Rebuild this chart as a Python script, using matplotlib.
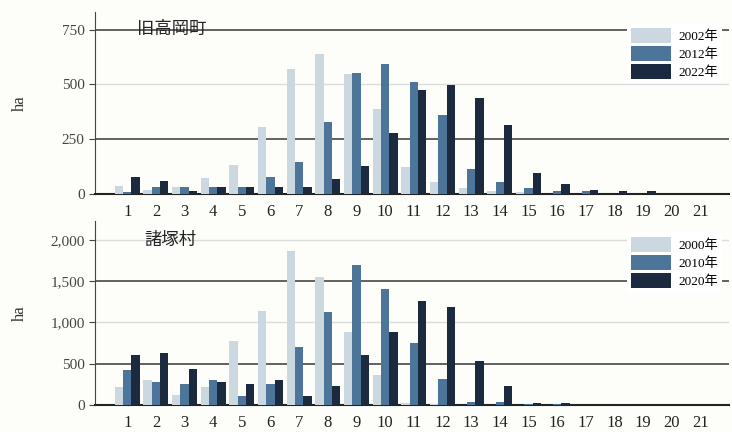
import matplotlib
matplotlib.use("Agg")
import matplotlib.pyplot as plt
import numpy as np
from matplotlib.ticker import FuncFormatter

categories = [str(i) for i in range(1, 22)]

top_title = "旧高岡町"
top_labels = ["2002年", "2012年", "2022年"]
top_a = [35, 20, 30, 73, 133, 307, 570, 641, 547, 386, 121, 53, 26, 15, 10, 0, 0, 0, 0, 0, 0]
top_b = [10, 30, 30, 30, 30, 76, 145, 327, 551, 594, 512, 359, 114, 53, 27, 15, 15, 0, 0, 0, 0]
top_c = [76, 58, 15, 30, 30, 30, 30, 70, 126, 279, 473, 497, 439, 315, 95, 45, 20, 15, 15, 2, 0]
top_ticks = [0, 250, 500, 750]

bot_title = "諸塚村"
bot_labels = ["2000年", "2010年", "2020年"]
bot_a = [224, 305, 120, 224, 772, 1138, 1862, 1557, 886, 358, 30, 10, 0, 0, 0, 0, 0, 0, 0, 0, 0]
bot_b = [419, 276, 256, 297, 110, 252, 700, 1122, 1700, 1406, 752, 309, 40, 40, 10, 15, 5, 5, 5, 5, 5]
bot_c = [610, 630, 435, 280, 256, 300, 114, 228, 600, 886, 1260, 1187, 532, 228, 30, 30, 5, 10, 5, 5, 5]
bot_ticks = [0, 500, 1000, 1500, 2000]

colors = ["#cbd8e0", "#4c7599", "#1b2a3f"]
serif = ["Liberation Serif", "Noto Sans CJK JP"]
cjk = ["Noto Sans CJK JP", "DejaVu Sans"]
bg = "#fdfdf9"

fig = plt.figure(figsize=(7.32, 4.32), dpi=100, facecolor=bg)
ax1 = fig.add_axes([0.130, 0.551, 0.866, 0.421])
ax2 = fig.add_axes([0.130, 0.0625, 0.866, 0.426])

def draw(ax, title, labels, series, ticks, ymax, title_xy):
    ax.set_facecolor(bg)
    x = np.arange(len(categories))
    w = 0.29
    for i, (vals, lab, col) in enumerate(zip(series, labels, colors)):
        ax.bar(x + (i - 1) * w, vals, width=w, color=col, label=lab, zorder=3)
    for j, t in enumerate(ticks):
        if j == 0:
            continue
        if j % 2 == 1:
            ax.axhline(t, color="#555555", lw=1.3, zorder=1)
        else:
            ax.axhline(t, color="#dcdcdc", lw=1.0, zorder=1)
    ax.set_xlim(-1.12, 21.0)
    ax.set_ylim(0, ymax)
    ax.set_yticks(ticks)
    ax.yaxis.set_major_formatter(FuncFormatter(lambda v, p: f"{int(v):,}"))
    ax.set_xticks(x)
    ax.set_xticklabels(categories)
    for sp in ["top", "right"]:
        ax.spines[sp].set_visible(False)
    ax.spines["left"].set_color("#444444")
    ax.spines["bottom"].set_color("#222222")
    ax.spines["bottom"].set_linewidth(1.5)
    ax.tick_params(axis="x", length=0, pad=7, labelsize=12, colors="#222222")
    ax.tick_params(axis="y", length=4, labelsize=11, colors="#444444")
    for lbl in ax.get_xticklabels() + ax.get_yticklabels():
        lbl.set_family(serif)
    ax.set_ylabel("ha", family=serif, fontsize=12, color="#333333")
    ax.yaxis.set_label_coords(-0.106, 0.5)
    ax.text(title_xy[0], title_xy[1], title, transform=ax.transAxes,
            family=cjk, fontsize=12.5, color="#222222", va="center", zorder=5)
    leg = ax.legend(loc="upper right", bbox_to_anchor=(1.0, 0.97), frameon=True,
                    facecolor="white", edgecolor="none", framealpha=1.0,
                    handlelength=3.0, handleheight=1.4, labelspacing=0.2,
                    handletextpad=0.6,
                    prop={"family": serif, "size": 9.5}, borderpad=0.3)
    leg.set_zorder(6)

draw(ax1, top_title, top_labels, [top_a, top_b, top_c], top_ticks, 830, (0.066, 0.905))
draw(ax2, bot_title, bot_labels, [bot_a, bot_b, bot_c], bot_ticks, 2230, (0.078, 0.895))

fig.savefig("out.png", dpi=100, facecolor=bg)
